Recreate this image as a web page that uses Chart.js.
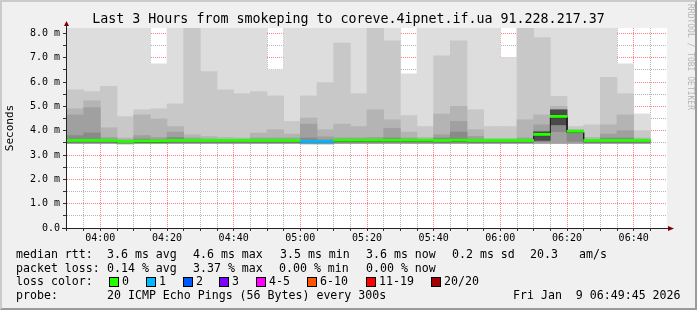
<!DOCTYPE html>
<html>
<head>
<meta charset="utf-8">
<script src="https://cdn.jsdelivr.net/npm/chart.js@4.4.1/dist/chart.umd.min.js"></script>
<style>
  body { margin: 0; background: #f0f0f0; }
  #wrap { position: relative; width: 697px; height: 310px; overflow: hidden; font-family: 'DejaVu Sans Mono', monospace; color: #000; }
  #wrap canvas { position: absolute; left: 0; top: 0; }
  .t { position: absolute; white-space: pre; font-size: 11.6px; line-height: 14px; }
  .sq { position: absolute; width: 8px; height: 8px; border: 1px solid #000; }
  #title { position: absolute; left: 0; top: 11px; width: 697px; text-align: center; font-size: 13.3px; line-height: 16px; white-space: pre; }
  #credit { position: absolute; left: 685px; top: 4px; writing-mode: vertical-rl; font-size: 8px; line-height: 10px; color: #b4b4b4; white-space: pre; }
  #frame { position: absolute; left: 0; top: 0; width: 697px; height: 310px; box-sizing: border-box; border-style: solid; border-width: 2px; border-color: #cbcbcb #9a9a9a #9a9a9a #cbcbcb; pointer-events: none; }
</style>
</head>
<body>
<div id="wrap">
  <canvas id="chart" width="697" height="310"></canvas>
  <div id="title">Last 3 Hours from smokeping to coreve.4ipnet.if.ua 91.228.217.37</div>
  <div id="credit">RRDTOOL / TOBI OETIKER</div>

  <div class="t" style="left:16px;top:247px">median rtt:</div>
  <div class="t" style="left:107px;top:247px">3.6 ms avg</div>
  <div class="t" style="left:193px;top:247px">4.6 ms max</div>
  <div class="t" style="left:280px;top:247px">3.5 ms min</div>
  <div class="t" style="left:366px;top:247px">3.6 ms now</div>
  <div class="t" style="left:452px;top:247px">0.2 ms sd</div>
  <div class="t" style="left:530px;top:247px">20.3</div>
  <div class="t" style="left:579px;top:247px">am/s</div>

  <div class="t" style="left:16px;top:260.5px">packet loss:</div>
  <div class="t" style="left:107px;top:260.5px">0.14 % avg</div>
  <div class="t" style="left:193px;top:260.5px">3.37 % max</div>
  <div class="t" style="left:279px;top:260.5px">0.00 % min</div>
  <div class="t" style="left:366px;top:260.5px">0.00 % now</div>

  <div class="t" style="left:16px;top:274px">loss color:</div>
  <div id="losslegend"></div>

  <div class="t" style="left:16px;top:287.5px">probe:</div>
  <div class="t" style="left:107px;top:287.5px">20 ICMP Echo Pings (56 Bytes) every 300s</div>
  <div class="t" style="left:513px;top:287.5px">Fri Jan  9 06:49:45 2026</div>

  <div id="frame"></div>
</div>
<script>
// 5 minute slots, start time of each
const slotStart = ['03:50', '03:55', '04:00', '04:05', '04:10', '04:15', '04:20', '04:25', '04:30', '04:35',
  '04:40', '04:45', '04:50', '04:55', '05:00', '05:05', '05:10', '05:15', '05:20', '05:25',
  '05:30', '05:35', '05:40', '05:45', '05:50', '05:55', '06:00', '06:05', '06:10', '06:15',
  '06:20', '06:25', '06:30', '06:35', '06:40'];

// median rtt (ms)
const medianRtt = [3.55, 3.55, 3.55, 3.51, 3.53, 3.53, 3.55, 3.55, 3.55, 3.55,
  3.55, 3.55, 3.55, 3.55, 3.51, 3.51, 3.56, 3.56, 3.56, 3.56,
  3.56, 3.56, 3.55, 3.56, 3.55, 3.55, 3.55, 3.55, 3.80, 4.54,
  3.93, 3.55, 3.55, 3.55, 3.55];

// lost pings per slot
const lostPings = [0, 0, 0, 0, 0, 0, 0, 0, 0, 0,
  0, 0, 0, 0, 1, 1, 0, 0, 0, 0,
  0, 0, 0, 0, 0, 0, 0, 0, 0, 0,
  0, 0, 0, 0, 0];

// smoke: fastest ping and band tops, outer to inner (values above 8.2 are off the chart)
const smokeMin = [3.48, 3.48, 3.48, 3.46, 3.48, 3.48, 3.48, 3.48, 3.48, 3.48,
  3.48, 3.48, 3.48, 3.48, 3.46, 3.46, 3.48, 3.48, 3.48, 3.48,
  3.48, 3.48, 3.48, 3.48, 3.48, 3.48, 3.48, 3.48, 3.48, 3.48,
  3.48, 3.48, 3.48, 3.48, 3.48];
const smokeMax = [9, 9, 9, 9, 9, 6.75, 9, 9, 9, 9,
  9, 9, 6.5, 9, 9, 9, 9, 9, 9, 9,
  6.34, 9, 9, 9, 9, 9, 7.0, 9, 9, 9,
  9, 9, 9, 6.75, 4.69];
const smokeTop2 = [5.68, 5.61, 5.82, 4.58, 4.86, 4.9, 5.1, 9, 6.43, 5.68,
  5.52, 5.61, 5.43, 4.38, 5.43, 5.98, 7.6, 5.52, 9, 7.69,
  4.62, 4.17, 7.08, 7.69, 4.86, 4.17, 4.17, 9, 7.83, 5.41,
  4.17, 4.24, 6.19, 5.52, 4.0];
const smokeTop3 = [4.9, 5.23, 4.12, 3.70, 4.65, 4.48, 4.17, 3.83, 3.76, 3.72,
  3.70, 3.90, 4.04, 3.86, 4.52, 4.04, 4.27, 4.17, 4.86, 4.45,
  3.94, 3.72, 4.68, 5.0, 4.04, 3.68, 3.68, 4.45, 4.65, 5.0,
  4.05, 3.72, 4.24, 4.65, 3.70];
const smokeTop4 = [4.65, 4.95, 3.72, 3.62, 3.80, 3.72, 3.94, 3.70, 3.66, 3.64,
  3.64, 3.70, 3.70, 3.70, 4.27, 3.75, 3.70, 3.70, 3.72, 4.10,
  3.70, 3.64, 3.83, 4.38, 3.77, 3.62, 3.62, 3.70, 4.24, 4.86,
  4.00, 3.64, 3.86, 4.00, 3.64];
const smokeTop5 = [3.80, 3.91, 3.64, 3.58, 3.66, 3.62, 3.72, 3.62, 3.60, 3.60,
  3.60, 3.62, 3.62, 3.62, 3.70, 3.62, 3.62, 3.62, 3.62, 3.70,
  3.62, 3.60, 3.70, 3.94, 3.65, 3.58, 3.58, 3.62, 3.98, 4.62,
  3.96, 3.60, 3.70, 3.70, 3.60];
const smokeLow5 = [3.5, 3.5, 3.5, 3.5, 3.5, 3.5, 3.5, 3.5, 3.5, 3.5,
  3.5, 3.5, 3.5, 3.5, 3.5, 3.5, 3.5, 3.5, 3.5, 3.5,
  3.5, 3.5, 3.5, 3.5, 3.5, 3.5, 3.5, 3.5, 3.55, 3.96,
  3.56, 3.5, 3.5, 3.5, 3.5];
// dense core around the median where the pings bunch up
const coreLow = [null, null, null, null, null, null, null, null, null, null,
  null, null, null, null, null, null, null, null, null, null,
  null, null, null, null, null, null, null, null, 3.6, 4.24,
  null, null, null, null, null];
const coreHigh = [null, null, null, null, null, null, null, null, null, null,
  null, null, null, null, null, null, null, null, null, null,
  null, null, null, null, null, null, null, null, 3.95, 4.86,
  null, null, null, null, null];

const xTickLabels = ['04:00', '04:20', '04:40', '05:00', '05:20', '05:40', '06:00', '06:20', '06:40'];
const yTickLabels = ['0.0', '1.0 m', '2.0 m', '3.0 m', '4.0 m', '5.0 m', '6.0 m', '7.0 m', '8.0 m'];
const yTop = 8.22;

const lossLabels = ['0', '1', '2', '3', '4-5', '6-10', '11-19', '20/20'];
const lossColors = ['#26ff00', '#00b8ff', '#0059ff', '#7e00ff', '#ff00ff', '#ff5500', '#ff0000', '#a10000'];

// legend boxes
const boxX = [109, 146, 183, 219, 256, 307, 366, 431];
const legendEl = document.getElementById('losslegend');
lossLabels.forEach((lab, i) => {
  const sq = document.createElement('div');
  sq.className = 'sq';
  sq.style.left = boxX[i] + 'px';
  sq.style.top = '277px';
  sq.style.background = lossColors[i];
  legendEl.appendChild(sq);
  const t = document.createElement('div');
  t.className = 't';
  t.style.left = (boxX[i] + 13) + 'px';
  t.style.top = '274px';
  t.textContent = lab;
  legendEl.appendChild(t);
});

const toMin = s => { const [h, m] = s.split(':').map(Number); return h * 60 + m; };
const slotMid = slotStart.map(s => toMin(s) + 2.5);
const xMin = toMin(slotStart[0]);
const xMax = xMin + 180;
const xLabelAt = xTickLabels.map(toMin);

const lossColorFor = n => n === 0 ? lossColors[0] : n === 1 ? lossColors[1] : n === 2 ? lossColors[2] : n === 3 ? lossColors[3]
  : n <= 5 ? lossColors[4] : n <= 10 ? lossColors[5] : n <= 19 ? lossColors[6] : lossColors[7];

const floating = (lo, hi) => slotMid.map((x, i) => ({ x, y: hi[i] == null ? null : [lo[i], hi[i]] }));

const smoke = (lo, hi, color, order) => ({
  type: 'bar',
  data: floating(lo, hi),
  backgroundColor: color,
  borderWidth: 0,
  grouped: false,
  barPercentage: 1,
  categoryPercentage: 1,
  clip: 0,
  order
});

const stepPts = [];
slotStart.forEach((s, i) => {
  stepPts.push({ x: toMin(s), y: medianRtt[i] }, { x: toMin(s) + 5, y: medianRtt[i] });
});

// grid every 5 min, labels every 20 min
const xGrid = [];
for (let v = xMin + 5; v < xMax; v += 5) xGrid.push(v);
const yGrid = [];
for (let v = 0; v <= 8; v += 0.5) yGrid.push(v);

const majorRed = '#ff8080';
const minorGray = '#b4b4b4';
const font10 = { family: 'DejaVu Sans Mono', size: 10 };

const plotBackground = {
  id: 'plotBackground',
  beforeDraw(chart) {
    const { ctx, chartArea: a } = chart;
    ctx.save();
    ctx.fillStyle = '#ffffff';
    ctx.fillRect(a.left, a.top, a.right - a.left, a.bottom - a.top);
    ctx.restore();
  }
};

const axisArrows = {
  id: 'axisArrows',
  afterDraw(chart) {
    const { ctx, chartArea: a } = chart;
    ctx.save();
    ctx.strokeStyle = '#222';
    ctx.lineWidth = 1;
    ctx.beginPath();
    ctx.moveTo(a.left - 5, a.bottom + 0.5);
    ctx.lineTo(a.right + 2, a.bottom + 0.5);
    ctx.moveTo(a.left - 0.5, a.bottom + 3);
    ctx.lineTo(a.left - 0.5, a.top - 4);
    ctx.stroke();
    ctx.fillStyle = '#7f0000';
    ctx.beginPath();
    ctx.moveTo(a.left - 3, a.top - 2);
    ctx.lineTo(a.left + 2, a.top - 2);
    ctx.lineTo(a.left - 0.5, a.top - 7);
    ctx.closePath();
    ctx.fill();
    ctx.beginPath();
    ctx.moveTo(a.right + 1, a.bottom - 2);
    ctx.lineTo(a.right + 1, a.bottom + 3);
    ctx.lineTo(a.right + 7, a.bottom + 0.5);
    ctx.closePath();
    ctx.fill();
    ctx.restore();
  }
};

new Chart(document.getElementById('chart'), {
  type: 'bar',
  data: {
    datasets: [
      smoke(smokeMin, smokeMax, '#dddddd', 10),
      smoke(smokeMin, smokeTop2, '#c8c8c8', 9),
      smoke(smokeMin, smokeTop3, '#b4b4b4', 8),
      smoke(smokeMin, smokeTop4, '#a0a0a0', 7),
      smoke(smokeLow5, smokeTop5, '#8a8a8a', 6),
      smoke(coreLow, coreHigh, '#4a4a4a', 5),
      {
        type: 'line',
        data: stepPts,
        borderColor: '#1c1c1c',
        borderWidth: 1,
        pointRadius: 0,
        tension: 0,
        order: 2
      },
      {
        type: 'bar',
        data: slotMid.map((x, i) => ({ x, y: [medianRtt[i], medianRtt[i] + 0.09] })),
        backgroundColor: lostPings.map(lossColorFor),
        borderWidth: 0,
        grouped: false,
        barPercentage: 1,
        categoryPercentage: 1,
        order: 1
      }
    ]
  },
  options: {
    responsive: false,
    devicePixelRatio: 1,
    animation: false,
    events: [],
    layout: { padding: { top: 28, right: 30, bottom: 62, left: 0 } },
    plugins: { legend: { display: false }, tooltip: { enabled: false } },
    scales: {
      x: {
        type: 'linear',
        min: xMin,
        max: xMax,
        offset: false,
        z: 1,
        afterBuildTicks: s => { s.ticks = xGrid.map(v => ({ value: v })); },
        afterFit: s => { s.height = 20; },
        grid: {
          offset: false,
          color: c => (c.tick && xLabelAt.includes(c.tick.value)) ? majorRed : minorGray,
          tickLength: 3,
          tickColor: '#333'
        },
        border: { display: false, dash: [1, 1] },
        ticks: {
          autoSkip: false,
          maxRotation: 0,
          padding: 1,
          color: '#000',
          font: font10,
          callback: v => {
            const k = xLabelAt.indexOf(v);
            return k >= 0 ? xTickLabels[k] : '';
          }
        }
      },
      y: {
        min: 0,
        max: yTop,
        z: 1,
        afterBuildTicks: s => { s.ticks = yGrid.map(v => ({ value: v })); },
        afterFit: s => { s.width = 67; },
        grid: {
          color: c => (c.tick && Number.isInteger(c.tick.value)) ? majorRed : minorGray,
          tickLength: 4,
          tickColor: '#333'
        },
        border: { display: false, dash: [1, 1] },
        ticks: {
          autoSkip: false,
          padding: 3,
          color: '#000',
          font: font10,
          callback: v => Number.isInteger(v) ? yTickLabels[v] : ''
        },
        title: {
          display: true,
          text: 'Seconds',
          color: '#000',
          font: { family: 'DejaVu Sans Mono', size: 11 },
          padding: { top: 4, bottom: 0 }
        }
      }
    }
  },
  plugins: [plotBackground, axisArrows]
});
</script>
</body>
</html>
